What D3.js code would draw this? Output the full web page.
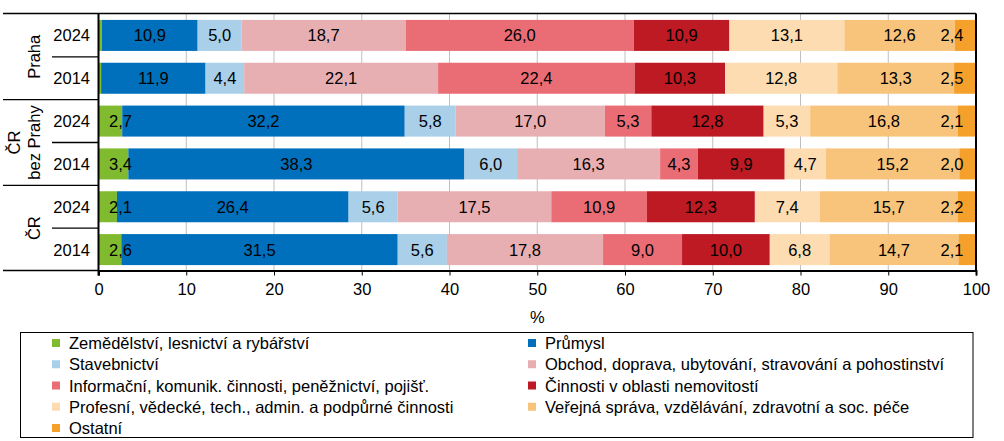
<!DOCTYPE html>
<html>
<head>
<meta charset="utf-8">
<script src="https://cdn.jsdelivr.net/npm/d3@7"></script>
<style>
  html, body { margin: 0; padding: 0; background: #fff; }
  svg { display: block; font-family: Arial, "Liberation Sans", sans-serif; }
</style>
</head>
<body>
<svg id="chart" width="1004" height="441"></svg>
<script>
// ---- data ----
const groups = ["Praha", "ČR bez Prahy", "ČR"];
const years = ["2024", "2014"];
const series = [
  "Zemědělství, lesnictví a rybářství",
  "Průmysl",
  "Stavebnictví",
  "Obchod, doprava, ubytování, stravování a pohostinství",
  "Informační, komunik. činnosti, peněžnictví, pojišť.",
  "Činnosti v oblasti nemovitostí",
  "Profesní, vědecké, tech., admin. a podpůrné činnosti",
  "Veřejná správa, vzdělávání, zdravotní a soc. péče",
  "Ostatní"
];
const colors = ["#80bb2f", "#0070bd", "#a9cfe9", "#e8afb3", "#ea6d75", "#bd1a23", "#fddcb1", "#f8c47c", "#f5a02b"];
// rows in display order (top to bottom)
const rowGroup = ["Praha", "Praha", "ČR bez Prahy", "ČR bez Prahy", "ČR", "ČR"];
const rowYear  = ["2024", "2014", "2024", "2014", "2024", "2014"];
const agri      = [0.4, 0.3, 2.7, 3.4, 2.1, 2.6];
const industry  = [10.9, 11.9, 32.2, 38.3, 26.4, 31.5];
const construct = [5.0, 4.4, 5.8, 6.0, 5.6, 5.6];
const trade     = [18.7, 22.1, 17.0, 16.3, 17.5, 17.8];
const info      = [26.0, 22.4, 5.3, 4.3, 10.9, 9.0];
const realty    = [10.9, 10.3, 12.8, 9.9, 12.3, 10.0];
const prof      = [13.1, 12.8, 5.3, 4.7, 7.4, 6.8];
const publicSec = [12.6, 13.3, 16.8, 15.2, 15.7, 14.7];
const other     = [2.4, 2.5, 2.1, 2.0, 2.2, 2.1];
const xTicks = [0, 10, 20, 30, 40, 50, 60, 70, 80, 90, 100];

const valueArrays = [agri, industry, construct, trade, info, realty, prof, publicSec, other];

(function () {
// ---- layout ----
const FS = 16.5;
const svg = d3.select("#chart");
const pLeft = 98.5, pRight = 976, pTop = 13.5, pBottom = 270.5;
const x = d3.scaleLinear().domain([0, 100]).range([pLeft, pRight]);
const rowIds = d3.range(rowGroup.length);
const y = d3.scaleBand().domain(rowIds).range([14, 271]).paddingInner(0.276).paddingOuter(0.138);
const fmt = v => d3.format(".1f")(v).replace(".", ",");

// gridlines
svg.append("g").selectAll("line").data(xTicks.slice(1, -1)).join("line")
  .attr("x1", d => x(d)).attr("x2", d => x(d))
  .attr("y1", pTop).attr("y2", pBottom)
  .attr("stroke", "#bfbfbf").attr("stroke-width", 1);

// stacked data
const table = rowIds.map(i => {
  const o = { id: i };
  series.forEach((s, k) => o[s] = valueArrays[k][i]);
  return o;
});
const stacked = d3.stack().keys(series)(table);

const layers = svg.append("g").selectAll("g").data(stacked).join("g")
  .attr("fill", (d, i) => colors[i]);
layers.selectAll("rect").data(d => d).join("rect")
  .attr("x", d => x(d[0]))
  .attr("width", d => x(d[1]) - x(d[0]))
  .attr("y", d => y(d.data.id))
  .attr("height", y.bandwidth());

// value labels
const labelData = [];
stacked.forEach((layer, k) => {
  layer.forEach(d => {
    const v = valueArrays[k][d.data.id];
    if (v < 1) return;
    let cx = (x(d[0]) + x(d[1])) / 2;
    cx = Math.max(cx, pLeft + 22);
    cx = Math.min(cx, pRight - 24);
    labelData.push({ cx, cy: y(d.data.id) + y.bandwidth() / 2, t: fmt(v) });
  });
});
svg.append("g").selectAll("text").data(labelData).join("text")
  .attr("x", d => d.cx).attr("y", d => d.cy)
  .attr("text-anchor", "middle").attr("dominant-baseline", "central")
  .attr("font-size", FS).attr("fill", "#000")
  .text(d => d.t);

// frame
svg.append("line").attr("x1", 3).attr("x2", pRight).attr("y1", pTop).attr("y2", pTop)
  .attr("stroke", "#000").attr("stroke-width", 1.5);
svg.append("line").attr("x1", pRight).attr("x2", pRight).attr("y1", pTop).attr("y2", pBottom)
  .attr("stroke", "#000").attr("stroke-width", 2);

// x axis
const xAxis = svg.append("g").attr("transform", `translate(0,${pBottom})`)
  .call(d3.axisBottom(x).tickValues(xTicks).tickSize(5).tickPadding(8).tickFormat(d3.format("d")));
xAxis.select(".domain").attr("stroke", "#000").attr("stroke-width", 2);
xAxis.selectAll(".tick line").attr("stroke", "#000");
xAxis.selectAll("text").attr("font-size", FS).attr("fill", "#000").attr("font-family", "Arial, 'Liberation Sans', sans-serif");

svg.append("text").attr("x", (pLeft + pRight) / 2).attr("y", 323)
  .attr("text-anchor", "middle").attr("font-size", FS).text("%");

// y (multi-level category) axis
svg.append("line").attr("x1", pLeft).attr("x2", pLeft).attr("y1", pTop).attr("y2", pBottom + 5)
  .attr("stroke", "#000").attr("stroke-width", 2);
const step = y.step();
// year labels
svg.append("g").selectAll("text").data(rowIds).join("text")
  .attr("x", 90).attr("y", i => y(i) + y.bandwidth() / 2)
  .attr("text-anchor", "end").attr("dominant-baseline", "central")
  .attr("font-size", FS).text(i => rowYear[i]);
// group separator lines
const groupStarts = groups.map(g => rowIds.find(i => rowGroup[i] === g));
const groupEnds = groups.map(g => rowIds.filter(i => rowGroup[i] === g).pop());
const bandTop = i => y(i) - (step - y.bandwidth()) / 2;
const gLines = groups.map((g, k) => bandTop(groupStarts[k])).concat([pBottom]);
svg.append("g").selectAll("line").data(gLines.slice(1)).join("line")
  .attr("x1", 3).attr("x2", pLeft).attr("y1", d => d).attr("y2", d => d)
  .attr("stroke", "#000").attr("stroke-width", 1.3);
// sub lines between years
const subLines = groups.map((g, k) => bandTop(groupEnds[k]));
svg.append("g").selectAll("line").data(subLines).join("line")
  .attr("x1", 52).attr("x2", pLeft).attr("y1", d => d).attr("y2", d => d)
  .attr("stroke", "#000").attr("stroke-width", 1.3);
// group labels rotated
const groupLabelLines = { "Praha": ["Praha"], "ČR bez Prahy": ["ČR", "bez Prahy"], "ČR": ["ČR"] };
groups.forEach((g, k) => {
  const cy = (bandTop(groupStarts[k]) + bandTop(groupEnds[k]) + step) / 2;
  const lines = groupLabelLines[g];
  lines.forEach((ln, j) => {
    const cx = 34 - (lines.length - 1 - j) * 20.5;
    svg.append("text")
      .attr("transform", `translate(${cx},${cy}) rotate(-90)`)
      .attr("text-anchor", "middle").attr("dominant-baseline", "central")
      .attr("font-size", FS).text(ln);
  });
});

// legend
svg.append("rect").attr("x", 20.5).attr("y", 332.5).attr("width", 952.5).attr("height", 105)
  .attr("fill", "none").attr("stroke", "#000").attr("stroke-width", 1);
const legend = svg.append("g").selectAll("g").data(series).join("g")
  .attr("transform", (d, i) => `translate(${i % 2 === 0 ? 52 : 528},${343 + Math.floor(i / 2) * 21.25})`);
legend.append("rect").attr("x", 0).attr("y", -4).attr("width", 8).attr("height", 8)
  .attr("fill", (d, i) => colors[i]);
legend.append("text").attr("x", 17).attr("y", 0).attr("dominant-baseline", "central")
  .attr("font-size", FS).text(d => d);
})();
</script>
</body>
</html>
